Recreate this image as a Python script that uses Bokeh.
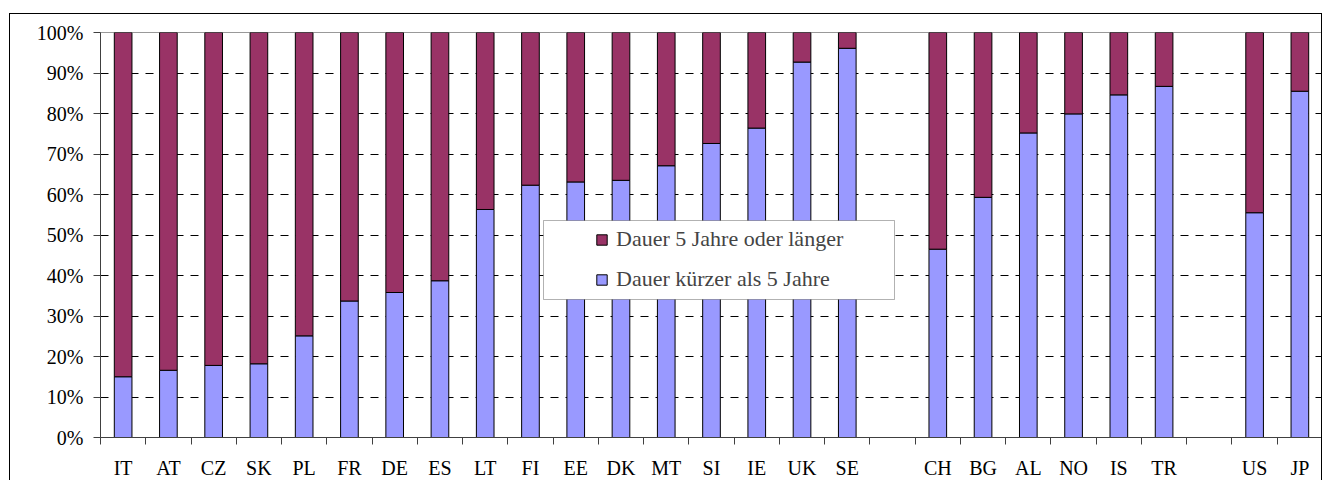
from bokeh.plotting import figure
from bokeh.models import (FixedTicker, NumeralTickFormatter, Legend, LegendItem,
                          BoxAnnotation, ColumnDataSource, Spacer)
from bokeh.layouts import column, row
from bokeh.embed import file_html
from bokeh.resources import INLINE

# ---- data ----
countries = ["IT", "AT", "CZ", "SK", "PL", "FR", "DE", "ES", "LT", "FI", "EE", "DK",
             "MT", "SI", "IE", "UK", "SE", "", "CH", "BG", "AL", "NO", "IS", "TR", "",
             "US", "JP"]
short = [15.0, 16.6, 17.8, 18.2, 25.1, 33.7, 35.8, 38.7, 56.3, 62.3, 63.1, 63.5,
         67.1, 72.6, 76.4, 92.7, 96.1, None, 46.5, 59.3, 75.2, 79.9, 84.6, 86.7, None,
         55.5, 85.5]
long = [85.0, 83.4, 82.2, 81.8, 74.9, 66.3, 64.2, 61.3, 43.7, 37.7, 36.9, 36.5,
        32.9, 27.4, 23.6, 7.3, 3.9, None, 53.5, 40.7, 24.8, 20.1, 15.4, 13.3, None,
        44.5, 14.5]
y_ticks = [0, 0.1, 0.2, 0.3, 0.4, 0.5, 0.6, 0.7, 0.8, 0.9, 1.0]

label_long = "Dauer 5 Jahre oder länger"
label_short = "Dauer kürzer als 5 Jahre"
col_long = "#993366"
col_short = "#9999FF"

FONT = "Liberation Serif"

xs, s_vals, l_vals = [], [], []
for i, (c, s, l) in enumerate(zip(countries, short, long)):
    if c:
        xs.append(i)
        s_vals.append(s / 100.0)
        l_vals.append(l / 100.0)
src = ColumnDataSource(dict(x=xs, short=s_vals, long=l_vals))

n = len(countries)
p = figure(width=1313, height=467, output_backend="svg", toolbar_location=None,
           x_range=(-0.5, n - 0.5), y_range=(0, 1),
           min_border_left=90, min_border_top=18, min_border_right=1,
           min_border_bottom=43)
p.background_fill_color = "white"
p.border_fill_color = "white"
p.outline_line_color = "#999999"
p.styles = {"border-top": "1px solid black", "border-left": "1px solid black",
            "border-right": "1px solid black"}

r_short, r_long = p.vbar_stack(["short", "long"], x="x", width=0.39, source=src,
                               color=[col_short, col_long],
                               line_color="black", line_width=1)

# axes
centers = [i for i in range(n)]
bounds = [i - 0.5 for i in range(n + 1)]
xa = p.xaxis[0]
xa.ticker = FixedTicker(ticks=centers, minor_ticks=bounds)
xa.major_label_overrides = {i: c for i, c in enumerate(countries)}
xa.major_tick_out = 0
xa.major_tick_in = 0
xa.minor_tick_out = 7
xa.minor_tick_in = 0
xa.minor_tick_line_color = "#404040"
xa.axis_line_color = "#404040"
xa.major_label_standoff = 12
xa.major_label_text_font = FONT
xa.major_label_text_font_size = "20px"
xa.major_label_text_color = "black"

ya = p.yaxis[0]
ya.ticker = FixedTicker(ticks=y_ticks)
ya.formatter = NumeralTickFormatter(format="0%")
ya.major_tick_out = 7
ya.major_tick_in = 0
ya.minor_tick_line_color = None
ya.major_tick_line_color = "#404040"
ya.axis_line_color = "#404040"
ya.major_label_standoff = 10
ya.major_label_text_font = FONT
ya.major_label_text_font_size = "20px"
ya.major_label_text_color = "black"

p.xgrid.grid_line_color = None
p.ygrid.ticker = FixedTicker(ticks=y_ticks[1:-1])
p.ygrid.grid_line_color = "black"
p.ygrid.grid_line_dash = "8 7"
p.ygrid.grid_line_width = 1

# legend box
box = BoxAnnotation(left=443, right=794, bottom=138, top=217,
                    left_units="screen", right_units="screen",
                    bottom_units="screen", top_units="screen",
                    fill_color="white", fill_alpha=1,
                    line_color="black", line_width=1)
p.add_layout(box)

legend = Legend(items=[LegendItem(label=label_long, renderers=[r_long]),
                       LegendItem(label=label_short, renderers=[r_short])],
                location=(485, 135), padding=10, spacing=14,
                glyph_width=13, glyph_height=13, label_standoff=8,
                label_text_font=FONT, label_text_font_size="22px",
                background_fill_alpha=0, border_line_alpha=0)
p.add_layout(legend)

layout = column(Spacer(height=13), row(Spacer(width=9), p))

open("out.html", "w").write(file_html(layout, INLINE))
